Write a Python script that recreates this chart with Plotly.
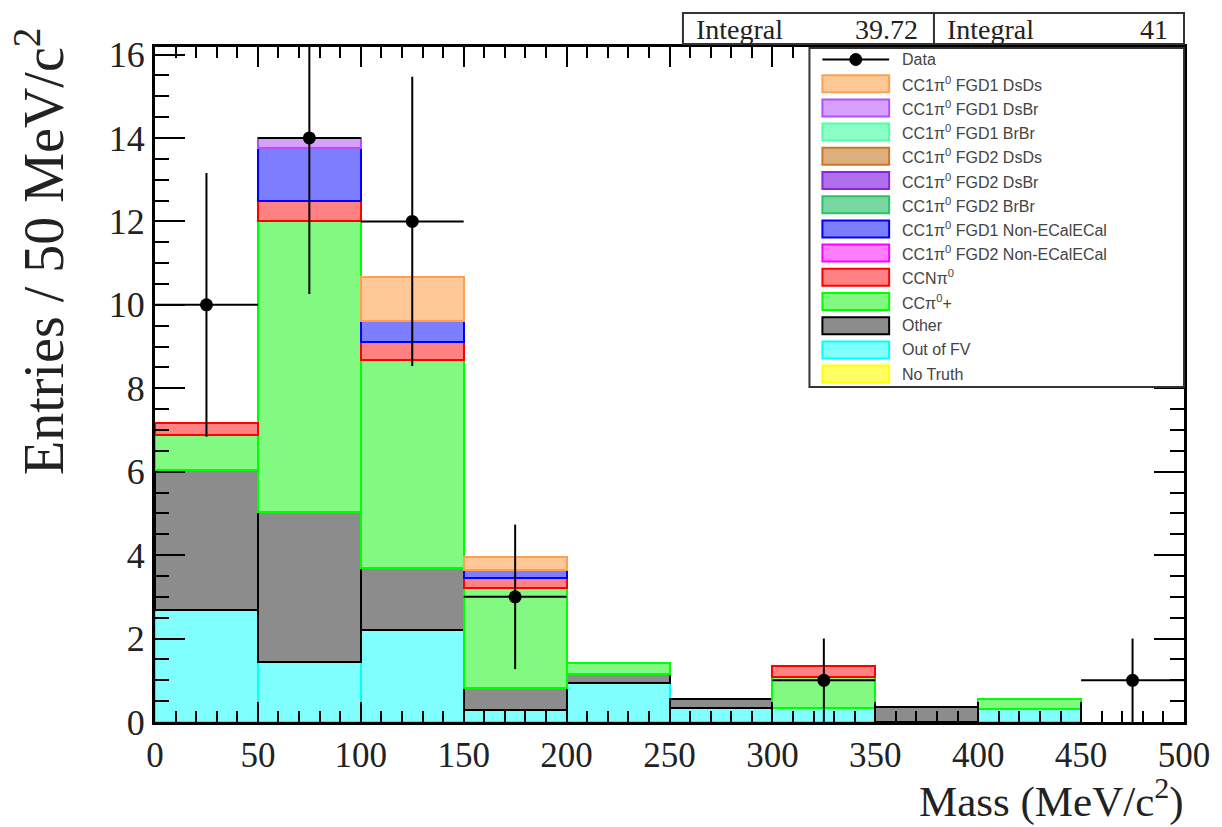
import math
import plotly.graph_objects as go

# ---------------- data ----------------
bin_centers = [25, 75, 125, 175, 225, 275, 325, 375, 425, 475]
bin_width = 50

no_truth      = [0, 0, 0, 0, 0, 0, 0, 0, 0, 0]
out_of_fv     = [2.68, 1.43, 2.20, 0.28, 0.93, 0.33, 0.33, 0, 0.31, 0]
other         = [3.36, 3.60, 1.49, 0.53, 0.23, 0.22, 0, 0.35, 0, 0]
cc_pip        = [0.84, 6.99, 4.99, 2.40, 0.25, 0, 0.75, 0, 0.24, 0]
cc_npi0       = [0.29, 0.48, 0.43, 0.24, 0, 0, 0.26, 0, 0, 0]
fgd2_nonecal  = [0, 0, 0, 0, 0, 0, 0, 0, 0, 0]
fgd1_nonecal  = [0, 1.27, 0.51, 0.19, 0, 0, 0, 0, 0, 0]
fgd2_brbr     = [0, 0, 0, 0, 0, 0, 0, 0, 0, 0]
fgd2_dsbr     = [0, 0, 0, 0, 0, 0, 0, 0, 0, 0]
fgd2_dsds     = [0, 0, 0, 0, 0, 0, 0, 0, 0, 0]
fgd1_brbr     = [0, 0, 0, 0, 0, 0, 0, 0, 0, 0]
fgd1_dsbr     = [0, 0.24, 0, 0, 0, 0, 0, 0, 0, 0]
fgd1_dsds     = [0, 0, 1.05, 0.31, 0, 0, 0, 0, 0, 0]

data_counts = [10, 14, 12, 3, 0, 0, 1, 0, 0, 1]

integral_mc = "39.72"
integral_data = "41"

x_ticks = [0, 50, 100, 150, 200, 250, 300, 350, 400, 450, 500]
y_ticks = [0, 2, 4, 6, 8, 10, 12, 14, 16]

# (label, values, fill, line) listed bottom -> top of the stack
stack = [
    ("No Truth", no_truth, "#ffff64", "#ffff00"),
    ("Out of FV", out_of_fv, "#80ffff", "#00ffff"),
    ("Other", other, "#8c8c8c", "#000000"),
    ("CCπ<sup>0</sup>+", cc_pip, "#82fa82", "#00ff00"),
    ("CCNπ<sup>0</sup>", cc_npi0, "#ff8282", "#ff0000"),
    ("CC1π<sup>0</sup> FGD2 Non-ECalECal", fgd2_nonecal, "#ff7dff", "#ff00ff"),
    ("CC1π<sup>0</sup> FGD1 Non-ECalECal", fgd1_nonecal, "#7d7dff", "#0000ff"),
    ("CC1π<sup>0</sup> FGD2 BrBr", fgd2_brbr, "#78d7a0", "#28c364"),
    ("CC1π<sup>0</sup> FGD2 DsBr", fgd2_dsbr, "#af6eeb", "#8c28dc"),
    ("CC1π<sup>0</sup> FGD2 DsDs", fgd2_dsds, "#dcaf7d", "#c87828"),
    ("CC1π<sup>0</sup> FGD1 BrBr", fgd1_brbr, "#8cffc8", "#50ffa0"),
    ("CC1π<sup>0</sup> FGD1 DsBr", fgd1_dsbr, "#d7a0ff", "#b050ff"),
    ("CC1π<sup>0</sup> FGD1 DsDs", fgd1_dsds, "#ffc896", "#ffa050"),
]

# ---------------- layout geometry (pixels) ----------------
W, H = 1222, 827
ML, MR, MT, MB = 155, 34, 47, 105
PW = W - ML - MR
PH = H - MT - MB


def px(x):
    return (x - ML) / PW


def py(y):
    return (H - MB - y) / PH


fig = go.Figure()

for name, vals, fill, line in stack:
    fig.add_trace(go.Bar(
        x=bin_centers,
        y=[v if v > 0 else None for v in vals],
        width=bin_width,
        marker=dict(color=fill, line=dict(color=line, width=2)),
        name=name,
        showlegend=False,
    ))

dx = [c for c, n in zip(bin_centers, data_counts) if n > 0]
dy = [n for n in data_counts if n > 0]
fig.add_trace(go.Scatter(
    x=dx, y=dy, mode="markers",
    marker=dict(color="black", size=13),
    error_y=dict(type="data", array=[math.sqrt(n) for n in dy], color="black", thickness=2, width=0),
    error_x=dict(type="data", array=[bin_width / 2] * len(dy), color="black", thickness=2, width=0),
    name="Data", showlegend=False, cliponaxis=True,
))

serif = "Liberation Serif"
sans = "Liberation Sans"

fig.update_layout(
    width=W, height=H,
    margin=dict(l=ML, r=MR, t=MT, b=MB),
    paper_bgcolor="white", plot_bgcolor="white",
    barmode="stack", bargap=0,
    showlegend=False,
    xaxis=dict(
        range=[0, 500], tickvals=x_ticks, ticktext=[str(v) for v in x_ticks],
        ticks="inside", ticklen=20, tickwidth=2, tickcolor="black",
        minor=dict(dtick=10, ticks="inside", ticklen=11, tickwidth=2, tickcolor="black"),
        showline=True, linewidth=3, linecolor="black", mirror="ticks",
        showgrid=False, zeroline=False,
        tickfont=dict(family=serif, size=35, color="#222"),
    ),
    yaxis=dict(
        range=[0, 16.18], tickvals=y_ticks, ticktext=[str(v) for v in y_ticks],
        ticks="inside", ticklen=30, tickwidth=2, tickcolor="black",
        minor=dict(dtick=0.5, ticks="inside", ticklen=14, tickwidth=2, tickcolor="black"),
        showline=True, linewidth=3, linecolor="black", mirror="ticks",
        showgrid=False, zeroline=False,
        tickfont=dict(family=serif, size=36, color="#222"),
    ),
)

shapes = []
annotations = []

# axis titles
annotations.append(dict(
    text="Entries / 50 MeV/c<sup>2</sup>", xref="paper", yref="paper",
    x=px(40), y=py(26), xanchor="center", yanchor="top", textangle=-90,
    showarrow=False, font=dict(family=serif, size=56, color="#222"),
))
annotations.append(dict(
    text="Mass (MeV/c<sup>2</sup>)", xref="paper", yref="paper",
    x=px(1190), y=py(798), xanchor="right", yanchor="middle",
    showarrow=False, font=dict(family=serif, size=43, color="#222"),
))

# integral boxes
for (x0, x1), label, val in [((685, 937), "Integral", integral_mc), ((937, 1188), "Integral", integral_data)]:
    shapes.append(dict(type="rect", xref="paper", yref="paper",
                       x0=px(x0), x1=px(x1), y0=py(44), y1=py(13),
                       line=dict(color="#333", width=2), fillcolor="white", layer="above"))
    annotations.append(dict(text=label, xref="paper", yref="paper", x=px(x0 + 11), y=py(29),
                            xanchor="left", yanchor="middle", showarrow=False,
                            font=dict(family=serif, size=28, color="#222")))
    annotations.append(dict(text=val, xref="paper", yref="paper", x=px(x1 - 14), y=py(29),
                            xanchor="right", yanchor="middle", showarrow=False,
                            font=dict(family=serif, size=28, color="#222")))

# legend box
lx0, lx1, ly0, ly1 = 812, 1188, 48, 387
shapes.append(dict(type="rect", xref="paper", yref="paper",
                   x0=px(lx0), x1=px(lx1), y0=py(ly1), y1=py(ly0),
                   line=dict(color="#333", width=2), fillcolor="white", layer="above"))
row0, dy_row = 59.5, 24.2
sw0, sw1, txt_x = 825, 892, 903
rows = [("Data", None, None)] + [(n, f, l) for n, v, f, l in reversed(stack)]
for i, (name, fill, line) in enumerate(rows):
    yc = row0 + i * dy_row
    if fill is None:
        shapes.append(dict(type="line", xref="paper", yref="paper",
                           x0=px(sw0), x1=px(sw1), y0=py(yc), y1=py(yc),
                           line=dict(color="black", width=2), layer="above"))
        shapes.append(dict(type="circle", xref="paper", yref="paper",
                           x0=px(858.5 - 6), x1=px(858.5 + 6), y0=py(yc + 6), y1=py(yc - 6),
                           line=dict(color="black", width=1), fillcolor="black", layer="above"))
    else:
        shapes.append(dict(type="rect", xref="paper", yref="paper",
                           x0=px(sw0), x1=px(sw1), y0=py(yc + 8.5), y1=py(yc - 8.5),
                           line=dict(color=line, width=2), fillcolor=fill, layer="above"))
    annotations.append(dict(text=name, xref="paper", yref="paper", x=px(txt_x), y=py(yc),
                            xanchor="left", yanchor="middle", showarrow=False,
                            font=dict(family=sans, size=16, color="#444")))

fig.update_layout(shapes=shapes, annotations=annotations)
fig.write_html("out.html")
